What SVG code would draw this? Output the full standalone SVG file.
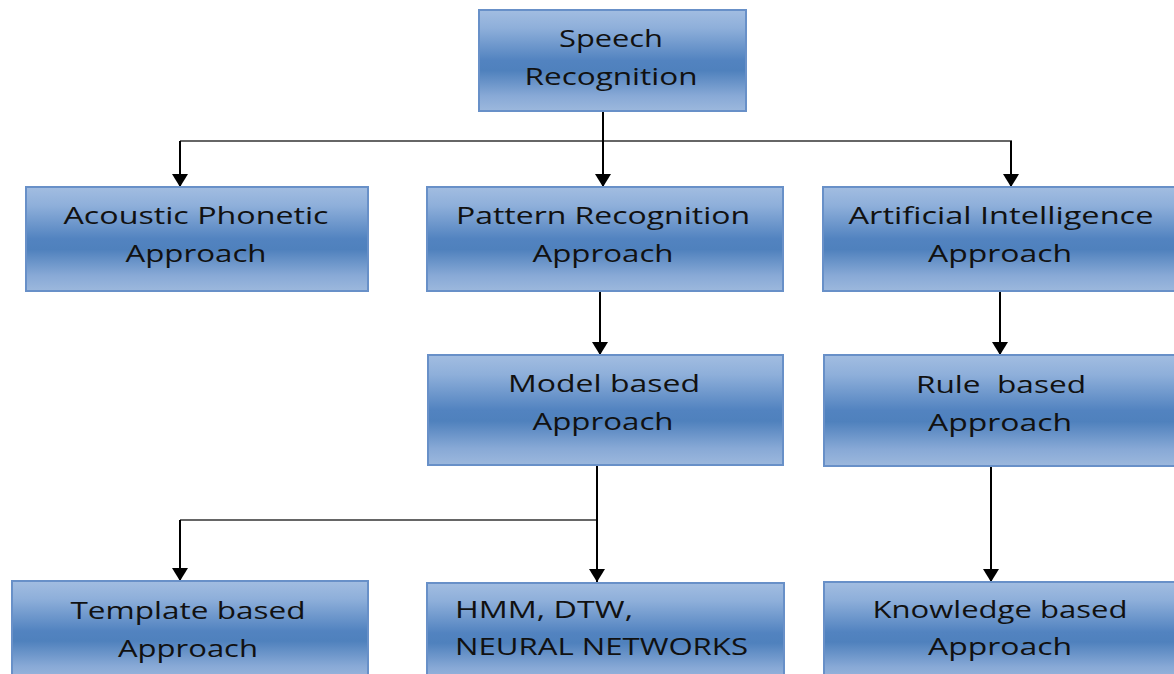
<svg xmlns="http://www.w3.org/2000/svg" width="1174" height="674" viewBox="0 0 1174 674">
<defs>
<linearGradient id="g" x1="0" y1="0" x2="0" y2="1">
<stop offset="0" stop-color="#a2bde1"/>
<stop offset="0.18" stop-color="#8eafda"/>
<stop offset="0.5" stop-color="#5283c0"/>
<stop offset="0.6" stop-color="#4f81bd"/>
<stop offset="0.85" stop-color="#88a9d6"/>
<stop offset="1" stop-color="#9cb8dd"/>
</linearGradient>
<marker id="ah" markerUnits="userSpaceOnUse" markerWidth="16" markerHeight="18" refX="13" refY="8" orient="auto">
<path d="M0,0 L13,8 L0,16 Z" fill="#000"/>
</marker>
<style>
.box{fill:url(#g);stroke:#6890c8;stroke-width:2}
.t{font-family:"Open Sans","Liberation Sans",sans-serif;font-size:24px;fill:#111;text-anchor:middle;white-space:pre}
.tl{font-family:"Open Sans","Liberation Sans",sans-serif;font-size:24px;fill:#111}
.v{stroke:#000;stroke-width:2;fill:none}
.h{stroke:#333;stroke-width:1.5;fill:none}
</style>
</defs>
<rect width="1174" height="674" fill="#fff"/>
<g id="connectors">
<path class="h" d="M180,141 H1012"/>
<path class="h" d="M180,520 H597"/>
<path class="v" d="M603,112 V187" marker-end="url(#ah)"/>
<path class="v" d="M180,141 V187" marker-end="url(#ah)"/>
<path class="v" d="M1011,141 V187" marker-end="url(#ah)"/>
<path class="v" d="M600,291 V355" marker-end="url(#ah)"/>
<path class="v" d="M1000,291 V355" marker-end="url(#ah)"/>
<path class="v" d="M597,465 V582" marker-end="url(#ah)"/>
<path class="v" d="M180,520 V581" marker-end="url(#ah)"/>
<path class="v" d="M991,466 V582" marker-end="url(#ah)"/>
</g>
<g id="speech">
<rect class="box" x="479" y="10" width="267" height="101"/>
<text class="t" x="611" y="47" textLength="104" lengthAdjust="spacingAndGlyphs">Speech</text>
<text class="t" x="611" y="85" textLength="173" lengthAdjust="spacingAndGlyphs">Recognition</text>
</g>
<g id="acoustic">
<rect class="box" x="26" y="187" width="342" height="104"/>
<text class="t" x="196" y="224" textLength="265" lengthAdjust="spacingAndGlyphs">Acoustic Phonetic</text>
<text class="t" x="196" y="262" textLength="141" lengthAdjust="spacingAndGlyphs">Approach</text>
</g>
<g id="pattern">
<rect class="box" x="427" y="187" width="356" height="104"/>
<text class="t" x="603" y="224" textLength="294" lengthAdjust="spacingAndGlyphs">Pattern Recognition</text>
<text class="t" x="603" y="262" textLength="141" lengthAdjust="spacingAndGlyphs">Approach</text>
</g>
<g id="ai">
<rect class="box" x="823" y="187" width="360" height="104"/>
<text class="t" x="1001" y="224" textLength="305" lengthAdjust="spacingAndGlyphs">Artificial Intelligence</text>
<text class="t" x="1000" y="262" textLength="144" lengthAdjust="spacingAndGlyphs">Approach</text>
</g>
<g id="model">
<rect class="box" x="428" y="355" width="355" height="110"/>
<text class="t" x="604" y="392" textLength="192" lengthAdjust="spacingAndGlyphs">Model based</text>
<text class="t" x="603" y="430" textLength="141" lengthAdjust="spacingAndGlyphs">Approach</text>
</g>
<g id="rule">
<rect class="box" x="824" y="355" width="360" height="111"/>
<text class="t" x="1001" y="393" textLength="170" lengthAdjust="spacingAndGlyphs" xml:space="preserve">Rule  based</text>
<text class="t" x="1000" y="431" textLength="144" lengthAdjust="spacingAndGlyphs">Approach</text>
</g>
<g id="template">
<rect class="box" x="12" y="581" width="356" height="100"/>
<text class="t" x="188" y="619" textLength="235" lengthAdjust="spacingAndGlyphs">Template based</text>
<text class="t" x="188" y="657" textLength="140" lengthAdjust="spacingAndGlyphs">Approach</text>
</g>
<g id="hmm">
<rect class="box" x="427" y="583" width="357" height="100"/>
<text class="tl" x="455" y="618" textLength="178" lengthAdjust="spacingAndGlyphs">HMM, DTW,</text>
<text class="tl" x="455" y="655" textLength="293" lengthAdjust="spacingAndGlyphs">NEURAL NETWORKS</text>
</g>
<g id="knowledge">
<rect class="box" x="824" y="582" width="360" height="100"/>
<text class="t" x="1000" y="618" textLength="255" lengthAdjust="spacingAndGlyphs">Knowledge based</text>
<text class="t" x="1000" y="655" textLength="144" lengthAdjust="spacingAndGlyphs">Approach</text>
</g>
</svg>
